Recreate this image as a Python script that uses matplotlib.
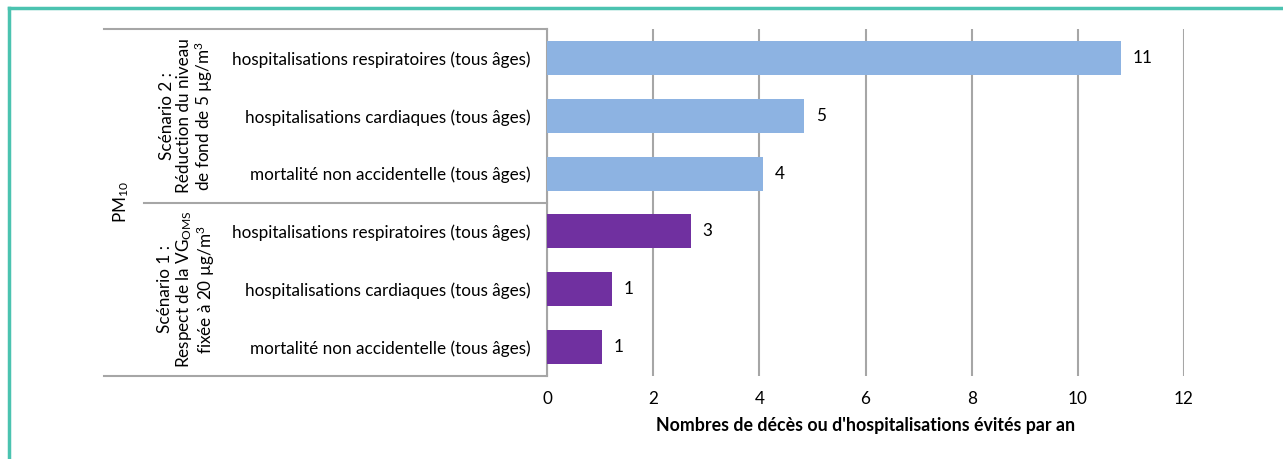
import numpy as np
import matplotlib
matplotlib.use('Agg')
import matplotlib.pyplot as plt
import matplotlib.transforms as mtransforms
from matplotlib.lines import Line2D

plt.rcParams['font.family'] = ['Lato', 'DejaVu Sans']
plt.rcParams['mathtext.fontset'] = 'custom'
plt.rcParams['mathtext.rm'] = 'Lato'
plt.rcParams['mathtext.it'] = 'Lato:italic'

# data (top to bottom)
categories = ['hospitalisations respiratoires (tous âges)',
              'hospitalisations cardiaques (tous âges)',
              'mortalité non accidentelle (tous âges)',
              'hospitalisations respiratoires (tous âges)',
              'hospitalisations cardiaques (tous âges)',
              'mortalité non accidentelle (tous âges)']
values = [10.82, 4.84, 4.07, 2.71, 1.22, 1.04]
value_labels = ['11', '5', '4', '3', '1', '1']
scenario = [2, 2, 2, 1, 1, 1]
scenario_labels = {2: 'Scénario 2 :\nRéduction du niveau\nde fond de 5 µg/m$^3$',
                   1: 'Scénario 1 :\nRespect de la VG$_{\\mathrm{OMS}}$\nfixée à 20 µg/m$^3$'}
pollutant = 'PM$_{10}$'
xticks = [0, 2, 4, 6, 8, 10, 12]
xlabel = "Nombres de décès ou d'hospitalisations évités par an"

colors = {2: '#8DB3E2', 1: '#7030A0'}
grid_col = '#A6A6A6'
fs = 12.3

fig = plt.figure(figsize=(12.83, 4.59), dpi=100)
ax = fig.add_axes([547 / 1283, 1 - 376 / 459, 637 / 1283, 347 / 459])

y = np.arange(len(values))
ax.barh(y, values, height=0.59, color=[colors[s] for s in scenario], zorder=3)
for yi, v, lab in zip(y, values, value_labels):
    ax.text(v + 0.22, yi, lab, va='center', ha='left', fontsize=fs)

ax.set_xlim(0, 12)
ax.set_ylim(len(values) - 0.5, -0.5)
ax.set_xticks(xticks)
ax.set_xticklabels([str(t) for t in xticks], fontsize=fs)
ax.tick_params(axis='x', length=0, pad=11)
ax.set_yticks(y)
ax.set_yticklabels(categories, fontsize=fs)
ax.tick_params(axis='y', length=0, pad=12)
ax.xaxis.grid(True, color=grid_col, lw=1.5, zorder=0)
for s in ['top', 'right', 'bottom']:
    ax.spines[s].set_visible(False)
ax.spines['left'].set_color(grid_col)
ax.spines['left'].set_linewidth(1.5)
ax.set_xlabel(xlabel, fontsize=12.8, fontweight='bold', labelpad=7)

# category table lines on the left
trans = mtransforms.blended_transform_factory(ax.transAxes, ax.transData)
x_out = (104 - 547) / 637
x_mid = (144 - 547) / 637
for yy, x0 in [(-0.5, x_out), (2.5, x_mid), (5.5, x_out)]:
    ax.plot([x0, 0], [yy, yy], color=grid_col, lw=1.5, transform=trans, clip_on=False)

x_scen = (187 - 547) / 637
for s, yc in [(2, 1), (1, 4)]:
    ax.text(x_scen, yc, scenario_labels[s], rotation=90, ha='center', va='center',
            fontsize=fs, transform=trans, linespacing=1.05)
ax.text((121 - 547) / 637, 2.5, pollutant, rotation=90, ha='center', va='center',
        fontsize=fs, transform=trans)

# teal frame
teal = '#4BC3B0'
fig.add_artist(Line2D([9 / 1283, 1], [1 - 7.5 / 459] * 2, color=teal, lw=2.5))
fig.add_artist(Line2D([9 / 1283] * 2, [0, 1 - 7.5 / 459], color=teal, lw=2.5))

fig.savefig('out.png', dpi=100)
